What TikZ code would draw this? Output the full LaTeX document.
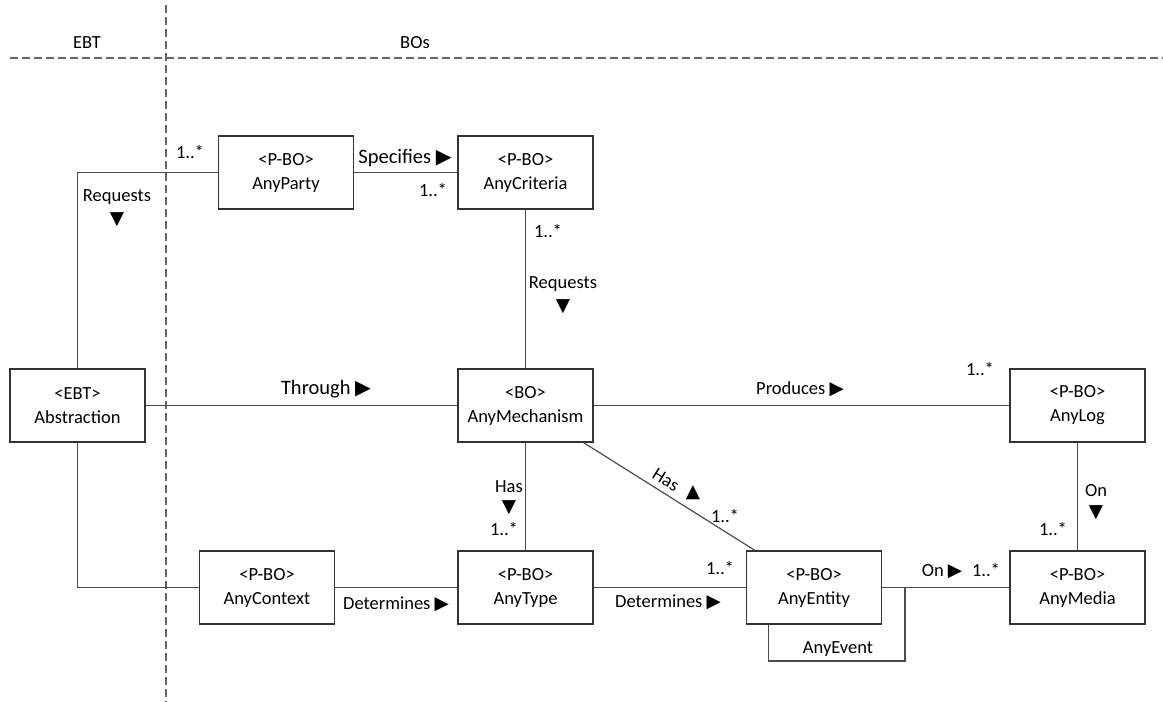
\documentclass[tikz,border=0pt]{standalone}
\usepackage{fontspec}
\setmainfont{Carlito}
\newfontfamily\symfont{DejaVu Sans}
\newcommand{\tright}{{\symfont ▶}}
\newcommand{\tdown}{{\symfont ▼}}
\newcommand{\tup}{{\symfont ▲}}
\begin{document}
\begin{tikzpicture}
	[x=1pt,y=-1pt,
	font=\fontsize{18.5}{24}\selectfont,
	bo/.style={rectangle,draw=black!80,line width=1.4pt,minimum width=135pt,minimum height=73pt,align=center,inner sep=0pt},
	lbl/.style={inner sep=0pt},
	big/.style={inner sep=0pt,font=\fontsize{20.5}{24}\selectfont},
	conn/.style={draw=black!70,line width=1.2pt},
	lane/.style={draw=black!60,line width=1.2pt,dash pattern=on 8pt off 4pt}]
	\useasboundingbox (0,0) rectangle (1163,702);
	% lanes
	\coordinate (lanetop) at (166,5);
	\coordinate (lanebot) at (166,702);
	\coordinate (laneleft) at (10,58);
	\coordinate (laneright) at (1163,58);
	\draw [lane] (lanetop) -- (lanebot);
	\draw [lane] (laneleft) -- (laneright);
	\node (ebt) at (87,43) [lbl] {EBT};
	\node (bos) at (415,43) [lbl] {BOs};
	% objects
	\node (party) at (286,172.5) [bo] {<P-BO>\\AnyParty};
	\node (crit) at (525.5,172.5) [bo] {<P-BO>\\AnyCriteria};
	\node (abs) at (77.5,405.5) [bo] {<EBT>\\Abstraction};
	\node (mech) at (525.5,405.5) [bo] {<BO>\\AnyMechanism};
	\node (log) at (1077.5,405.5) [bo] {<P-BO>\\AnyLog};
	\node (ctx) at (267,587.5) [bo] {<P-BO>\\AnyContext};
	\node (type) at (525.5,587.5) [bo] {<P-BO>\\AnyType};
	\node (ent) at (814,587.5) [bo] {<P-BO>\\AnyEntity};
	\node (media) at (1077.5,587.5) [bo] {<P-BO>\\AnyMedia};
	% connectors
	\draw [conn] (abs) |- (party);
	\draw [conn] (party) -- (crit);
	\draw [conn] (crit) -- (mech);
	\draw [conn] (abs) -- (mech);
	\draw [conn] (mech) -- (log);
	\draw [conn] (log) -- (media);
	\draw [conn] (mech) -- (type);
	\draw [conn] ([xshift=-10pt]mech.south east) -- ([xshift=9pt]ent.north west);
	\draw [conn] (abs) |- (ctx);
	\draw [conn] (ctx) -- (type);
	\draw [conn] (type) -- (ent);
	\draw [conn] (ent) -- (media);
	\coordinate (evt) at (905,661);
	\draw [conn] (ent.east) -| (evt) -| ([xshift=23pt]ent.south west);
	% labels
	\node (m1) at (190,152) [lbl] {1..*};
	\node (r1) at (117,197) [lbl] {Requests};
	\node (r1a) at (117,220) [lbl] {\tdown};
	\node (spec) at (405,158) [big] {Specifies \tright};
	\node (m2) at (433,190) [lbl] {1..*};
	\node (m3) at (548,231) [lbl] {1..*};
	\node (r2) at (563,284) [lbl] {Requests};
	\node (r2a) at (563,307) [lbl] {\tdown};
	\node (thr) at (326,389) [big] {Through \tright};
	\node (prod) at (800,389) [lbl] {Produces \tright};
	\node (m4) at (980,369) [lbl] {1..*};
	\node (has1) at (509,487) [lbl] {Has};
	\node (has1a) at (509,508) [lbl] {\tdown};
	\node (m5) at (504,529) [lbl] {1..*};
	\node (has2) at (666,480) [lbl,rotate=-32] {Has};
	\node (has2a) at (693,493) [lbl] {\tup};
	\node (m6) at (725,516) [lbl] {1..*};
	\node (det1) at (396,604) [lbl] {Determines \tright};
	\node (det2) at (668,602) [lbl] {Determines \tright};
	\node (m7) at (720,568) [lbl] {1..*};
	\node (on1) at (942,572) [lbl] {On \tright};
	\node (m8) at (986,570) [lbl] {1..*};
	\node (on2) at (1096,491) [lbl] {On};
	\node (on2a) at (1096,513) [lbl] {\tdown};
	\node (m9) at (1053,529) [lbl] {1..*};
	\node (evtl) at (838,649) [lbl] {AnyEvent};
\end{tikzpicture}
\end{document}
